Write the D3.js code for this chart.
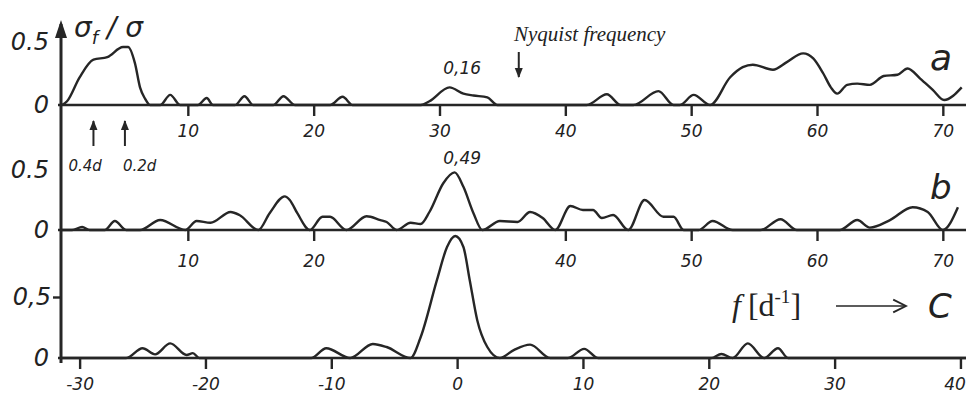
<!DOCTYPE html>
<html>
<head>
<meta charset="utf-8">
<script src="https://cdn.jsdelivr.net/npm/d3@7"></script>
<style>
  body { margin: 0; background: #fff; }
  text { fill: #222; }
  .hand { font-family: "DejaVu Sans", sans-serif; font-style: italic; }
  .serif { font-family: "Liberation Serif", "DejaVu Serif", serif; }
</style>
</head>
<body>
<svg id="chart" width="966" height="398"></svg>
<script>
// amplitude spectra, [frequency (d^-1), sigma_f / sigma]
const specA = [
  [0, 0], [0.4, 0.03], [1.4, 0.22], [2.5, 0.36], [3.6, 0.38], [4.85, 0.46], [5.25, 0.46],
  [5.8, 0.33], [6.2, 0.14], [6.6, 0.05], [7, 0],
  [7.8, 0], [8.6, 0.08], [9.4, 0], [10.8, 0], [11.5, 0.055], [12, 0],
  [13.75, 0], [14.5, 0.07], [15.2, 0], [16.8, 0], [17.6, 0.07], [18.5, 0],
  [21.3, 0], [22.3, 0.065], [23.1, 0],
  [28.5, 0], [29.2, 0.03], [30.8, 0.14], [31.9, 0.09], [32.7, 0.075], [33.8, 0.06], [34.6, 0],
  [41.7, 0], [43.3, 0.085], [44.4, 0], [45.4, 0], [47.4, 0.11], [48.6, 0],
  [49.1, 0], [50.2, 0.08], [51.5, 0],
  [53.1, 0.22], [54.1, 0.3], [54.9, 0.32], [56.5, 0.28], [57.6, 0.34], [58.9, 0.41], [59.7, 0.37],
  [60.5, 0.25], [61.1, 0.14], [61.6, 0.09], [62.4, 0.16], [63.2, 0.17], [64.2, 0.16], [65.3, 0.23],
  [66.4, 0.24], [67.2, 0.29], [68.2, 0.21], [69.2, 0.12], [70.1, 0.04], [71.5, 0.14]
];
const specB = [
  [0, 0], [0.8, 0], [1.6, 0.025], [2.2, 0], [3.4, 0], [4.2, 0.075], [5.1, 0],
  [6.2, 0], [7.8, 0.083], [9.8, 0],
  [10.7, 0.075], [11.8, 0.06], [13.4, 0.15], [14.1, 0.125], [15.6, 0],
  [16.5, 0.14], [17.7, 0.28], [18.1, 0.25], [18.7, 0.14], [19.7, 0],
  [20.7, 0.11], [21.3, 0.11], [22.6, 0], [24.2, 0.115], [25.3, 0.083], [25.8, 0.067], [26.6, 0],
  [27.7, 0.06], [28.5, 0.05], [29.2, 0.15], [30.3, 0.39], [31.2, 0.48], [31.9, 0.36], [32.7, 0.14], [33.4, 0],
  [34.8, 0.075], [36.2, 0.067], [37.2, 0.15], [38.2, 0.1], [39.2, 0],
  [40.4, 0.2], [41.4, 0.167], [42.2, 0.167], [42.9, 0.1], [43.8, 0.125], [45, 0],
  [46.3, 0.25], [47.8, 0.11], [48.6, 0.11], [49.4, 0],
  [50.6, 0], [51.7, 0.075], [53.3, 0], [55.5, 0], [57.1, 0.09], [58.4, 0],
  [61.8, 0], [63.2, 0.083], [64.2, 0.02], [65.8, 0.083], [67.6, 0.19], [68.8, 0.15], [70, 0], [71.2, 0.19]
];
// spectral window
const specC = [
  [-31.4, 0], [-26.3, 0], [-25.0, 0.08], [-24.0, 0.03], [-22.8, 0.12], [-21.5, 0.025], [-21, 0.04], [-20.5, 0],
  [-11.6, 0], [-10.4, 0.08], [-8.5, 0], [-6.7, 0.115], [-5.6, 0.09], [-3.7, 0],
  [-2.9, 0.17], [-1.6, 0.64], [-0.8, 0.91], [-0.15, 1.0], [0.5, 0.91], [1.0, 0.64], [1.6, 0.31], [2.4, 0.09], [3.4, 0],
  [4.5, 0.065], [5.8, 0.11], [7.4, 0], [8.8, 0], [10.1, 0.075], [11.2, 0],
  [20.2, 0], [21.0, 0.033], [21.9, 0], [23.1, 0.12], [24.4, 0], [25.5, 0.08], [26.3, 0], [40.6, 0]
];
const ticksA = [10, 20, 30, 40, 50, 60, 70];
const ticksB = [10, 20, 40, 50, 60, 70];
const ticksC = [-30, -20, -10, 0, 10, 20, 30, 40];
const nyquist = 36.3;
const periodMarks = [{ f: 2.5, label: "0.4d", dx: -25 }, { f: 5, label: "0.2d", dx: -2 }];
const peakLabelA = { f: 31.8, label: "0,16" };
const peakLabelB = { f: 31.8, label: "0,49" };

const svg = d3.select("#chart");
const ink = "#262626";

const xA = d3.scaleLinear().domain([0, 72]).range([62, 968]);
const xC = d3.scaleLinear().domain([-31.4, 40.6]).range([62, 968]);
const yA = d3.scaleLinear().domain([0, 0.5]).range([105, 42]);
const yB = d3.scaleLinear().domain([0, 0.5]).range([230, 170]);
const yC = d3.scaleLinear().domain([0, 0.5]).range([358, 297]);

// arrow heads
const defs = svg.append("defs");
defs.append("marker").attr("id", "tri")
  .attr("viewBox", "0 0 10 10").attr("refX", 9).attr("refY", 5)
  .attr("markerWidth", 5).attr("markerHeight", 5).attr("orient", "auto")
  .append("path").attr("d", "M0,1 L10,5 L0,9 Z").attr("fill", ink);
defs.append("marker").attr("id", "open")
  .attr("viewBox", "0 0 10 10").attr("refX", 9).attr("refY", 5)
  .attr("markerWidth", 10).attr("markerHeight", 10).attr("orient", "auto")
  .append("path").attr("d", "M1,1 L9,5 L1,9").attr("fill", "none")
  .attr("stroke", ink).attr("stroke-width", 1.2);

// vertical axis shared by all three panels
svg.append("line")
  .attr("x1", 61).attr("x2", 61).attr("y1", 24).attr("y2", 363)
  .attr("stroke", ink).attr("stroke-width", 3);
svg.append("path")
  .attr("d", "M61,20 L55,38 L67,38 Z").attr("fill", ink);

function panel(x, y, data, ticks, yFmt, ytick, pad) {
  const g = svg.append("g");
  // baseline + x ticks
  const ax = g.append("g")
    .attr("transform", `translate(0,${y(0)})`)
    .call(d3.axisBottom(x).tickValues(ticks).tickSize(11).tickSizeOuter(0).tickPadding(pad)
      .tickFormat(d => d < 0 ? "-" + Math.abs(d) : d));
  ax.select(".domain").attr("stroke", ink).attr("stroke-width", 2.6)
    .attr("d", `M58,0H${x.range()[1]}`);
  ax.selectAll(".tick line").attr("stroke", ink).attr("stroke-width", 2.4);
  ax.selectAll(".tick text").attr("class", "hand").attr("font-size", 17)
    .attr("fill", ink)
    .attr("dx", d => x(d) > 950 ? -6 : 0);

  // y labels
  const ay = g.append("g")
    .attr("transform", "translate(61,0)")
    .call(d3.axisLeft(y).tickValues([0, 0.5]).tickSize(0).tickPadding(12).tickFormat(yFmt));
  ay.select(".domain").remove();
  ay.selectAll(".tick text").attr("class", "hand").attr("font-size", 24).attr("fill", ink);
  if (ytick) {
    ay.selectAll(".tick").filter(d => d === 0.5).select("line")
      .attr("x2", -8).attr("stroke", ink).attr("stroke-width", 2.4);
    ay.selectAll(".tick").filter(d => d === 0.5).select("text").attr("x", -10);
  }

  // spectrum curve
  const line = d3.line()
    .x(d => x(d[0])).y(d => y(d[1]))
    .curve(d3.curveMonotoneX);
  g.append("path").datum(data)
    .attr("d", line).attr("fill", "none")
    .attr("stroke", ink).attr("stroke-width", 2.4)
    .attr("stroke-linejoin", "round");
  return g;
}

panel(xA, yA, specA, ticksA, d => d === 0 ? "0" : "0.5", false, 9);
panel(xA, yB, specB, ticksB, d => d === 0 ? "0" : "0.5", false, 14);
panel(xC, yC, specC, ticksC, d => d === 0 ? "0" : "0,5", true, 9);

// y label sigma_f / sigma
const yl = svg.append("text").attr("class", "hand").attr("x", 74).attr("y", 37).attr("font-size", 28);
yl.append("tspan").text("σ");
yl.append("tspan").attr("font-size", 18).attr("dy", 7).text("f");
yl.append("tspan").attr("dy", -7).text(" / σ");

// Nyquist frequency
svg.append("text").attr("class", "serif")
  .attr("x", 514).attr("y", 41).attr("font-size", 21).attr("font-style", "italic")
  .text("Nyquist frequency");
svg.append("line")
  .attr("x1", xA(nyquist)).attr("x2", xA(nyquist)).attr("y1", 52).attr("y2", 77)
  .attr("stroke", ink).attr("stroke-width", 2).attr("marker-end", "url(#tri)");

// period arrows
periodMarks.forEach(p => {
  svg.append("line")
    .attr("x1", xA(p.f)).attr("x2", xA(p.f)).attr("y1", 146).attr("y2", 121)
    .attr("stroke", ink).attr("stroke-width", 2).attr("marker-end", "url(#tri)");
  svg.append("text").attr("class", "hand")
    .attr("x", xA(p.f) + p.dx).attr("y", 171).attr("font-size", 15)
    .text(p.label);
});

// peak labels
svg.append("text").attr("class", "hand")
  .attr("x", xA(peakLabelA.f)).attr("y", 74).attr("text-anchor", "middle").attr("font-size", 17)
  .text(peakLabelA.label);
svg.append("text").attr("class", "hand")
  .attr("x", xA(peakLabelB.f)).attr("y", 164).attr("text-anchor", "middle").attr("font-size", 17)
  .text(peakLabelB.label);

// panel letters
svg.append("text").attr("class", "hand").attr("x", 930).attr("y", 70).attr("font-size", 36).text("a");
svg.append("text").attr("class", "hand").attr("x", 930).attr("y", 199).attr("font-size", 34).text("b");
svg.append("text").attr("class", "hand").attr("x", 928).attr("y", 318).attr("font-size", 34).text("C");

// f [d^-1] --->
const fl = svg.append("text").attr("class", "serif").attr("x", 732).attr("y", 316).attr("font-size", 32);
fl.append("tspan").attr("font-style", "italic").text("f");
fl.append("tspan").attr("dx", 7).text("[d");
fl.append("tspan").attr("font-size", 19).attr("dy", -13).text("-1");
fl.append("tspan").attr("dy", 13).text("]");
svg.append("line")
  .attr("x1", 836).attr("x2", 906).attr("y1", 306).attr("y2", 306)
  .attr("stroke", ink).attr("stroke-width", 1.6).attr("marker-end", "url(#open)");
</script>
</body>
</html>
